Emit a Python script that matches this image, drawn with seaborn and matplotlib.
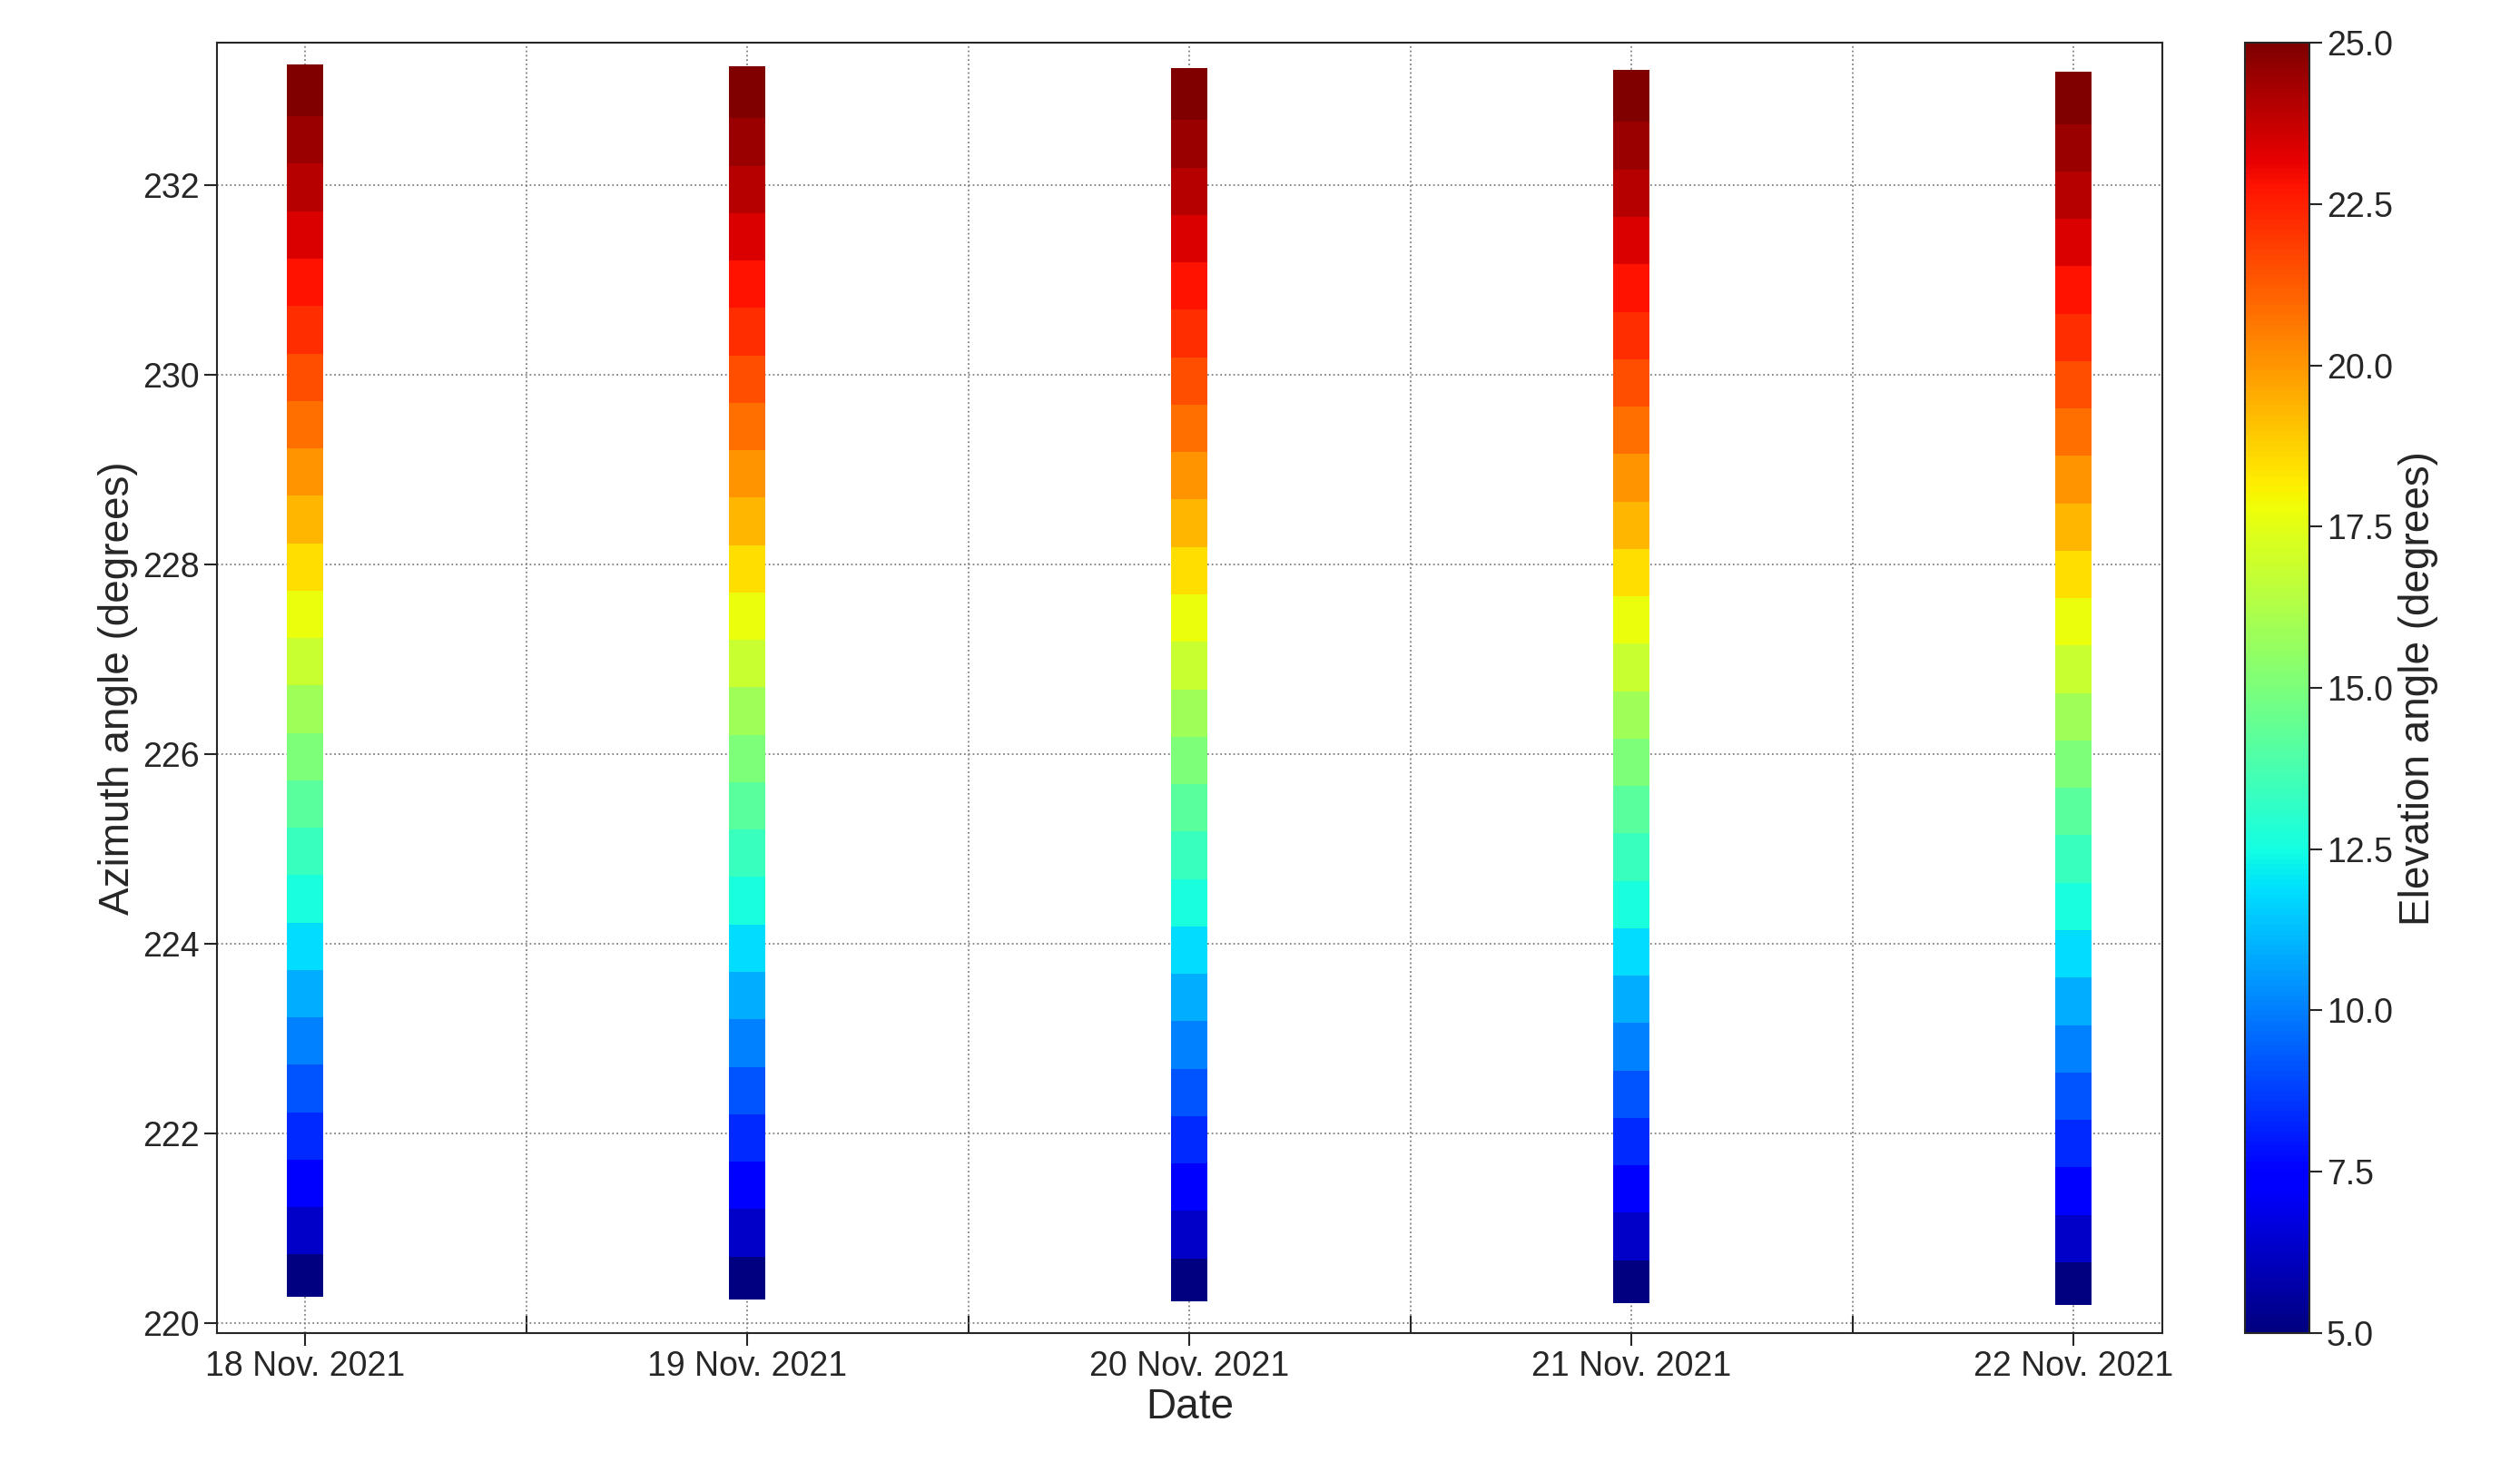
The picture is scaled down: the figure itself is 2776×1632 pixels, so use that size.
import numpy as np
import pandas as pd
import matplotlib
matplotlib.use("Agg")
import matplotlib.pyplot as plt
import seaborn as sns

days = ["18 Nov. 2021", "19 Nov. 2021", "20 Nov. 2021", "21 Nov. 2021", "22 Nov. 2021"]
day_pos = [0, 1, 2, 3, 4]
azimuth = [220.55, 221.0, 221.5, 222.0, 222.5, 223.0, 223.5, 224.0, 224.5, 225.0, 225.5,
           226.0, 226.5, 227.0, 227.5, 228.0, 228.5, 229.0, 229.5, 230.0, 230.5, 231.0,
           231.5, 232.0, 232.5, 233.0]
elevation = [5.0, 6.3, 7.3, 8.3, 9.2, 10.0, 10.9, 11.8, 12.6, 13.4, 14.2,
             15.0, 15.9, 16.8, 17.7, 18.5, 19.3, 20.0, 20.8, 21.5, 22.2, 22.8,
             23.4, 24.0, 24.5, 25.0]
az_shift = [0.0, -0.02, -0.04, -0.06, -0.08]

rows = []
for d, s in zip(day_pos, az_shift):
    for a, e in zip(azimuth, elevation):
        rows.append((d, a + s, e))
df = pd.DataFrame(rows, columns=["day", "azimuth", "elevation"])

sns.set_style("ticks")
plt.rcParams['font.family'] = ['Liberation Sans', 'DejaVu Sans']
fig = plt.figure(figsize=(27.76, 16.32), dpi=100)
ax = fig.add_axes([0.086, 0.10, 0.772, 0.871])
cax = fig.add_axes([0.891, 0.10, 0.0255, 0.871])

jet = matplotlib.colormaps["jet"]
norm = plt.Normalize(5, 25)
rect = [(-0.35, -0.5), (0.35, -0.5), (0.35, 0.5), (-0.35, 0.5)]
sns.scatterplot(data=df, x="day", y="azimuth", hue="elevation", palette=jet,
                hue_norm=norm, marker=rect, s=1700, linewidth=0, legend=False, ax=ax)

ax.set_xlim(-0.2, 4.2)
ax.set_ylim(219.9, 233.5)
ax.set_xticks(day_pos)
ax.set_xticklabels(days)
ax.set_xticks([0.5, 1.5, 2.5, 3.5], minor=True)
ax.set_yticks([220, 222, 224, 226, 228, 230, 232])
ax.tick_params(axis="both", which="major", labelsize=27, length=10, width=1.5)
ax.tick_params(axis="x", which="minor", direction="in", length=14, width=1.5)
ax.grid(True, which="both", axis="x", linestyle=":", color="gray", linewidth=1.3)
ax.grid(True, which="major", axis="y", linestyle=":", color="gray", linewidth=1.3)
ax.set_xlabel("Date", fontsize=33)
ax.set_ylabel("Azimuth angle (degrees)", fontsize=33)
for sp in ax.spines.values():
    sp.set_linewidth(1.5)

sm = plt.cm.ScalarMappable(cmap=jet, norm=norm)
cb = fig.colorbar(sm, cax=cax)
cb.set_ticks([5, 7.5, 10, 12.5, 15, 17.5, 20, 22.5, 25])
cb.ax.tick_params(labelsize=27, length=10, width=1.5)
cb.set_label("Elevation angle (degrees)", fontsize=33)
cb.outline.set_linewidth(1.5)

fig.savefig("out.png", dpi=100)
